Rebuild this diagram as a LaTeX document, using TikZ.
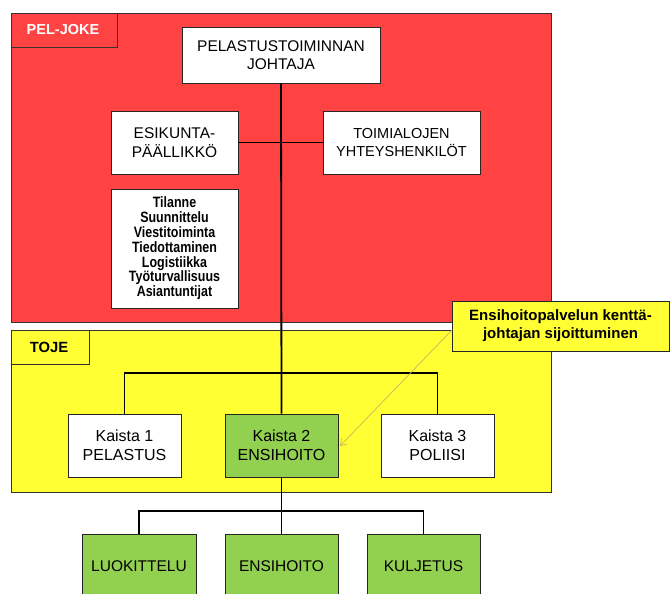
\documentclass[tikz,border=0pt]{standalone}
\usepackage{fontspec}
\setmainfont{Liberation Sans}
\newfontfamily\narrowfont[FakeStretch=0.83]{Liberation Sans}
\usetikzlibrary{arrows.meta}
\definecolor{redbg}{HTML}{FF4242}
\definecolor{yellowbg}{HTML}{FFFF33}
\definecolor{greenbox}{HTML}{92D050}
\definecolor{arrowtan}{HTML}{C8B464}
\begin{document}
\begin{tikzpicture}[x=1pt,y=-1pt,
  box/.style={draw=black!85,line width=0.8pt,fill=white,inner sep=0pt,align=center,
    font=\fontsize{15.5}{18.5}\selectfont},
  greenb/.style={box,fill=greenbox},
  conn/.style={line width=1.8pt,black},
  area/.style={draw=black!80,line width=0.8pt},
  lbl/.style={font=\fontsize{15.5}{18}\selectfont}]
\useasboundingbox (0,0) rectangle (670,594);
\clip (0,0) rectangle (670,594);
% areas
\fill[redbg,area] (11,13) rectangle (551,322);
\draw[area] (11,13) rectangle (117,47);
\node[text=white,font=\bfseries\fontsize{14.5}{16}\selectfont] (peljoke) at (63,30) {PEL-JOKE};
\fill[yellowbg,area] (11,330) rectangle (551,492);
\draw[area] (11,330) rectangle (89,364);
\node[font=\bfseries\fontsize{14.8}{16}\selectfont] (toje) at (49,347) {TOJE};
% boxes
\node[box,minimum width=198pt,minimum height=56pt] (top) at (281,55) {PELASTUSTOIMINNAN\\JOHTAJA};
\node[box,minimum width=127pt,minimum height=63pt] (esik) at (174.5,142.5) {ESIKUNTA-\\PÄÄLLIKKÖ};
\node[box,minimum width=157pt,minimum height=63pt,font=\fontsize{14.5}{18.5}\selectfont] (toim) at (401.5,142.5) {TOIMIALOJEN\\YHTEYSHENKILÖT};
\node[box,minimum width=127pt,minimum height=119pt,font=\narrowfont\bfseries\fontsize{15}{14.8}\selectfont] (til) at (174.5,248.5)
  {Tilanne\\Suunnittelu\\Viestitoiminta\\Tiedottaminen\\Logistiikka\\Työturvallisuus\\Asiantuntijat};
\node[box,minimum width=113pt,minimum height=63pt,font=\fontsize{16}{18.5}\selectfont] (k1) at (124.5,445.5) {Kaista 1\\PELASTUS};
\node[greenb,minimum width=113pt,minimum height=63pt,font=\fontsize{16}{18.5}\selectfont] (k2) at (281.5,445.5) {Kaista 2\\ENSIHOITO};
\node[box,minimum width=113pt,minimum height=63pt,font=\fontsize{16}{18.5}\selectfont] (k3) at (437.5,445.5) {Kaista 3\\POLIISI};
\node[greenb,minimum width=114pt,minimum height=70pt] (b1) at (139,569) {};
\node[greenb,minimum width=113pt,minimum height=70pt] (b2) at (281.5,569) {};
\node[greenb,minimum width=113pt,minimum height=70pt] (b3) at (423.5,569) {};
\node[lbl] (b1t) at (139,566) {LUOKITTELU};
\node[lbl] (b2t) at (281.5,566) {ENSIHOITO};
\node[lbl] (b3t) at (423.5,566) {KULJETUS};
\node[box,fill=yellowbg,minimum width=217pt,minimum height=50pt,font=\bfseries\fontsize{15}{18}\selectfont] (call) at (560.5,326)
  {Ensihoitopalvelun kenttä-\\johtajan sijoittuminen};
% connectors
\coordinate (h1) at (281,373);
\coordinate (h2) at (281,511);
\draw[conn] (top.south) -- (k2.north);
\draw[conn] (esik.east) -- (toim.west);
\draw[conn] (k1.north) |- (h1) -| (k3.north);
\draw[conn] (k2.south) -- (b2.north);
\draw[conn] (b1.north) |- (h2) -| (b3.north);
% callout arrow
\coordinate (cs) at (452,330);
\coordinate (ce) at (340,446);
\draw[arrowtan,line width=0.7pt,-{Straight Barb[length=6pt,width=8pt]}] (cs) -- (ce);
\end{tikzpicture}
\end{document}
